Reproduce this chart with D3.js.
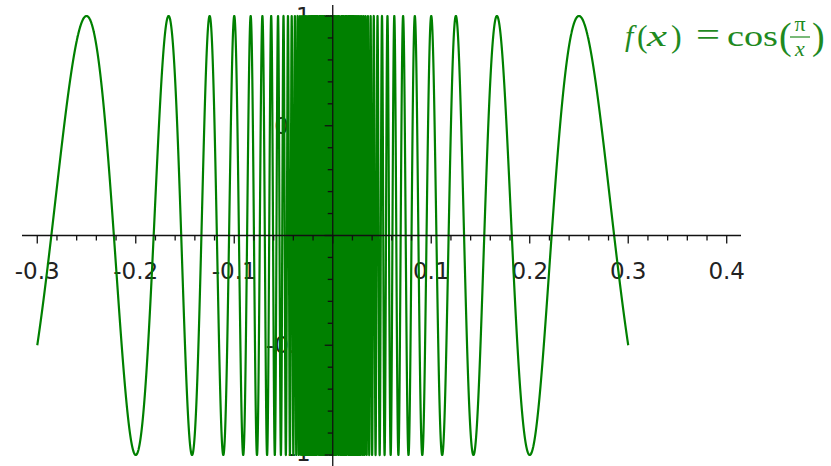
<!DOCTYPE html>
<html>
<head>
<meta charset="utf-8">
<script src="https://cdn.jsdelivr.net/npm/d3@7"></script>
<style>
  body { margin: 0; background: #fff; }
  .tick-label { font-family: "DejaVu Sans", sans-serif; font-size: 23px; fill: #222; }
  .formula { font-family: "Liberation Serif", "DejaVu Serif", serif; fill: #1f8a1f; }
</style>
</head>
<body>
<script>
var width = 831,
  height = 466;

// Plotted function and its range
var plotDomain = [-0.3, 0.3];
var samples = 60000;
var xTicks = [-0.3, -0.2, -0.1, 0.1, 0.2, 0.3, 0.4];
var xMinorStep = 0.02;
var yTicks = [-1, -0.5, 0.5, 1];
var yMinorStep = 0.1;
var axisXExtent = [-0.3155, 0.4145];
var axisYExtent = [-1.05, 1.05];

function f(x) { return Math.cos(Math.PI / x); }

var x = d3.scaleLinear().domain(axisXExtent).range([22, 741]);
var y = d3.scaleLinear().domain([-1, 1]).range([455, 16]);

var svg = d3.select("body").append("svg")
  .attr("width", width)
  .attr("height", height);

function fmt(d, spec) { return d3.format(spec)(d).replace("\u2212", "-"); }

// tick labels (under the curve, like the original)
svg.append("g").selectAll("text")
  .data(xTicks)
  .enter().append("text")
  .attr("class", "tick-label")
  .attr("x", function (d) { return x(d); })
  .attr("y", 279)
  .attr("text-anchor", "middle")
  .text(function (d) { return fmt(d, ".1f"); });

svg.append("g").selectAll("text")
  .data(yTicks)
  .enter().append("text")
  .attr("class", "tick-label")
  .attr("x", x(0) - 22)
  .attr("y", function (d) { return d === -1 ? y(d) + 6 : y(d) + 8; })
  .attr("text-anchor", "end")
  .text(function (d) { return fmt(d, ""); });

// the curve
var pts = d3.range(samples + 1).map(function (i) {
  var xv = plotDomain[0] + (plotDomain[1] - plotDomain[0]) * i / samples;
  return [xv, f(xv)];
});

var line = d3.line()
  .defined(function (d) { return isFinite(d[1]); })
  .x(function (d) { return x(d[0]); })
  .y(function (d) { return y(d[1]); });

svg.append("path")
  .datum(pts)
  .attr("fill", "none")
  .attr("stroke", "#008000")
  .attr("stroke-width", 2.2)
  .attr("stroke-linejoin", "round")
  .attr("d", line);

// axes on top
var axes = svg.append("g").attr("stroke", "#111").attr("stroke-width", 1.3);
var y0 = y(0), x0 = x(0);

axes.append("line")
  .attr("x1", x(axisXExtent[0])).attr("x2", x(axisXExtent[1]))
  .attr("y1", y0).attr("y2", y0);
axes.append("line")
  .attr("x1", x0).attr("x2", x0)
  .attr("y1", y(axisYExtent[1])).attr("y2", y(axisYExtent[0]));

var xMinor = d3.range(-0.3, 0.4001, xMinorStep).map(function (d) { return Math.round(d * 100) / 100; });
axes.selectAll(".xt")
  .data(xMinor)
  .enter().append("line")
  .attr("x1", function (d) { return x(d); })
  .attr("x2", function (d) { return x(d); })
  .attr("y1", y0)
  .attr("y2", function (d) { return y0 + (Math.abs(d * 10 - Math.round(d * 10)) < 1e-6 ? 8 : 5); });

var yMinor = d3.range(-1, 1.0001, yMinorStep).map(function (d) { return Math.round(d * 10) / 10; });
axes.selectAll(".yt")
  .data(yMinor)
  .enter().append("line")
  .attr("y1", function (d) { return y(d); })
  .attr("y2", function (d) { return y(d); })
  .attr("x1", x0)
  .attr("x2", function (d) { return x0 - (Math.abs(d * 2 - Math.round(d * 2)) < 1e-6 ? 8 : 5); });

// formula label, laid out piece by piece like the TeX rendering
var fm = svg.append("g").attr("class", "formula");
function piece(txt, px, py, size, italic, len, anchor) {
  var t = fm.append("text")
    .attr("x", px).attr("y", py)
    .attr("font-size", size)
    .attr("font-style", italic ? "italic" : null)
    .attr("text-anchor", anchor || "start")
    .text(txt);
  if (len) t.attr("textLength", len).attr("lengthAdjust", "spacingAndGlyphs");
  return t;
}
piece("f", 625, 46, 30, true);
piece("(", 637, 47, 32, false);
piece("x", 647, 46, 30, true, 20);
piece(")", 671, 47, 32, false);
piece("=", 696, 46, 34, false, 24);
piece("cos", 727, 46, 30, false, 51);
piece("(", 779, 49, 38, false);
piece("\u03c0", 800, 31, 22, false, null, "middle");
fm.append("line")
  .attr("x1", 790).attr("x2", 810)
  .attr("y1", 37).attr("y2", 37)
  .attr("stroke", "#1f8a1f").attr("stroke-width", 1.2);
piece("x", 800, 56, 22, true, null, "middle");
piece(")", 812, 49, 38, false);
</script>
</body>
</html>
